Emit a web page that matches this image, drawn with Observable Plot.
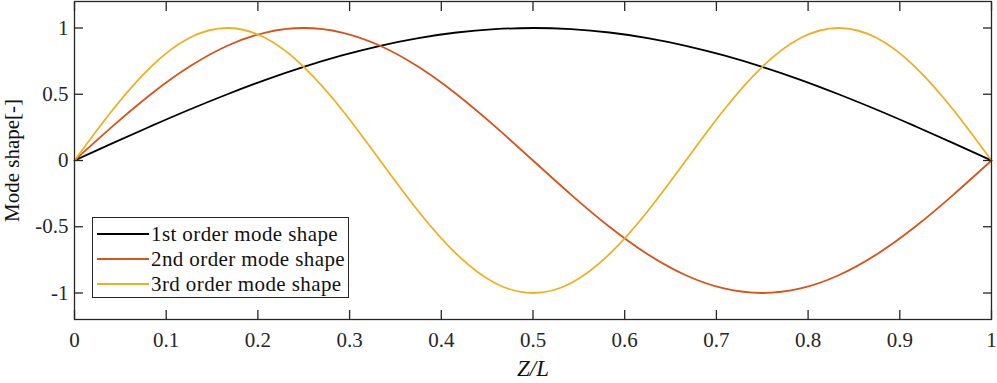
<!DOCTYPE html>
<html>
<head>
<meta charset="utf-8">
<script src="https://cdn.jsdelivr.net/npm/d3@7"></script>
<script src="https://cdn.jsdelivr.net/npm/@observablehq/plot@0.6"></script>
<style>
  html, body { margin: 0; padding: 0; background: #fff; }
  #wrap { position: relative; width: 997px; height: 383px; font-family: "Liberation Serif", "DejaVu Serif", serif; }
  #legend { position: absolute; left: 92px; top: 217px; width: 257px; height: 81px; border: 1px solid #262626; background: #fff; box-sizing: border-box; font-size: 21px; letter-spacing: 0.4px; color: #111; }
  .row { position: absolute; left: 4px; height: 24px; display: flex; align-items: center; white-space: nowrap; }
  .row svg { margin-right: 2px; flex: none; }
</style>
</head>
<body>
<div id="wrap"></div>
<script>
// Z/L sample positions
const zL = [0, 0.0417, 0.0833, 0.125, 0.1667, 0.2083, 0.25, 0.2917, 0.3333, 0.375, 0.4167, 0.4583, 0.5,
            0.5417, 0.5833, 0.625, 0.6667, 0.7083, 0.75, 0.7917, 0.8333, 0.875, 0.9167, 0.9583, 1];
const mode1 = [0, 0.131, 0.259, 0.383, 0.5, 0.609, 0.707, 0.793, 0.866, 0.924, 0.966, 0.991, 1,
               0.991, 0.966, 0.924, 0.866, 0.793, 0.707, 0.609, 0.5, 0.383, 0.259, 0.131, 0];
const mode2 = [0, 0.259, 0.5, 0.707, 0.866, 0.966, 1, 0.966, 0.866, 0.707, 0.5, 0.259, 0,
               -0.259, -0.5, -0.707, -0.866, -0.966, -1, -0.966, -0.866, -0.707, -0.5, -0.259, 0];
const mode3 = [0, 0.383, 0.707, 0.924, 1, 0.924, 0.707, 0.383, 0, -0.383, -0.707, -0.924, -1,
               -0.924, -0.707, -0.383, 0, 0.383, 0.707, 0.924, 1, 0.924, 0.707, 0.383, 0];
const seriesNames = ["1st order mode shape", "2nd order mode shape", "3rd order mode shape"];
const seriesColors = ["#000000", "#D95319", "#EDB120"];
const xTicks = [0, 0.1, 0.2, 0.3, 0.4, 0.5, 0.6, 0.7, 0.8, 0.9, 1];
const yTicks = [-1, -0.5, 0, 0.5, 1];

const allSeries = [mode1, mode2, mode3];
const rows = [];
allSeries.forEach((vals, s) => vals.forEach((v, i) => rows.push({z: zL[i], v, s: seriesNames[s]})));

const axisColor = "#262626";
const plot = Plot.plot({
  width: 997,
  height: 383,
  marginLeft: 74,
  marginRight: 6,
  marginTop: 1,
  marginBottom: 64,
  style: { fontFamily: "Liberation Serif, DejaVu Serif, serif", fontSize: "21px", color: "#262626", background: "#fff" },
  x: { domain: [0, 1] },
  y: { domain: [-1.2, 1.2] },
  color: { domain: seriesNames, range: seriesColors },
  marks: [
    Plot.lineY(rows, { x: "z", y: "v", stroke: "s", z: "s", strokeWidth: 1.8, curve: "natural" }),
    Plot.frame({ stroke: axisColor, strokeWidth: 1.3 }),
    Plot.axisX(xTicks, { anchor: "bottom", tickSize: -9, tickPadding: 22, tickFormat: d => String(d), label: null, stroke: axisColor, strokeWidth: 1.3 }),
    Plot.axisX(xTicks, { anchor: "top", tickSize: -9, tickFormat: () => "", label: null, stroke: axisColor, strokeWidth: 1.3 }),
    Plot.axisY(yTicks, { anchor: "left", tickSize: -9, tickPadding: 15, tickFormat: d => String(d), label: null, stroke: axisColor, strokeWidth: 1.3 }),
    Plot.axisY(yTicks, { anchor: "right", tickSize: -9, tickFormat: () => "", label: null, stroke: axisColor, strokeWidth: 1.3 }),
    Plot.text(["Z/L"], { frameAnchor: "bottom", dy: 56, fontStyle: "italic", fontSize: 23, fill: "#111" }),
    Plot.text(["Mode shape[-]"], { frameAnchor: "left", dx: -62, rotate: -90, textAnchor: "middle", fontSize: 21, fill: "#111" })
  ]
});
const wrap = document.getElementById("wrap");
wrap.appendChild(plot);

const legend = document.createElement("div");
legend.id = "legend";
seriesNames.forEach((name, i) => {
  const r = document.createElement("div");
  r.className = "row";
  r.style.top = (4 + i * 25) + "px";
  r.innerHTML = `<svg width="52" height="4"><line x1="0" y1="2" x2="52" y2="2" stroke="${seriesColors[i]}" stroke-width="2"/></svg><span>${name}</span>`;
  legend.appendChild(r);
});
wrap.appendChild(legend);
</script>
</body>
</html>
